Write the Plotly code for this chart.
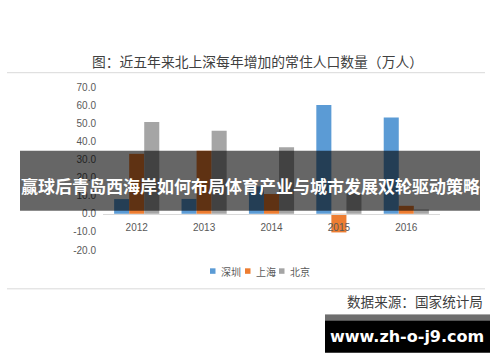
import plotly.graph_objects as go

years = ["2012", "2013", "2014", "2015", "2016"]
shenzhen = [8.1, 8.2, 15.1, 60.1, 53.1]
shanghai = [33.1, 34.8, 10.9, -10.3, 4.4]
beijing = [50.7, 45.9, 36.8, 11.4, 2.4]
series_names = ["深圳", "上海", "北京"]
colors = ["#5B9BD5", "#ED7D31", "#A5A5A5"]
y_ticks = [-20, -10, 0, 10, 20, 30, 40, 50, 60, 70]

title_text = "图：近五年来北上深每年增加的常住人口数量（万人）"
source_text = "数据来源：国家统计局"
overlay_text = "赢球后青岛西海岸如何布局体育产业与城市发展双轮驱动策略"
watermark_text = "www.zh-o-j9.com"

W, H = 500, 362
L, R, T, B = 103, 440, 87.3, 250.2
def px(x):
    return (x - L) / (R - L)
def py(y):
    return (B - y) / (B - T)

fig = go.Figure()
for name, vals, c in zip(series_names, [shenzhen, shanghai, beijing], colors):
    fig.add_trace(go.Bar(x=years, y=vals, name=name, showlegend=False,
                         marker=dict(color=c, line=dict(width=0))))

font_lbl = dict(family="Liberation Sans, Arial, sans-serif", size=10, color="#595959")
cjk = "Noto Sans CJK SC"

fig.update_layout(
    width=W, height=H,
    margin=dict(l=L, r=W - R, t=T, b=H - B, pad=0),
    paper_bgcolor="white", plot_bgcolor="white",
    barmode="group", bargap=0.33, bargroupgap=0,
    font=font_lbl,
    title=dict(text=title_text, x=257.5 / W, xref="container",
               y=1 - 62 / H, yref="container", xanchor="center", yanchor="middle",
               font=dict(family=cjk, size=13.8, color="#404040")),
    xaxis=dict(anchor="free", position=20 / 90, showline=True, linecolor="#D9D9D9",
               linewidth=1, ticks="", showgrid=False, tickfont=font_lbl, ticklabelstandoff=4),
    yaxis=dict(range=[-20, 70], tickvals=y_ticks, ticktext=[f"{v:.1f}" for v in y_ticks],
               showgrid=False, zeroline=False, ticks="", showline=False, tickfont=font_lbl,
               ticklabelstandoff=6),
)

shapes = [
    dict(type="line", xref="paper", yref="paper", x0=px(7), x1=px(485), y0=py(73), y1=py(73),
         line=dict(color="#D9D9D9", width=1)),
    dict(type="line", xref="paper", yref="paper", x0=px(7), x1=px(485), y0=py(289), y1=py(289),
         line=dict(color="#D9D9D9", width=1)),
]

# legend (manual, compact like the reference)
legend_x = [210, 245, 279]
for name, c, lx in zip(series_names, colors, legend_x):
    shapes.append(dict(type="rect", xref="paper", yref="paper", x0=px(lx), x1=px(lx + 5.5),
                       y0=py(274), y1=py(268.5), fillcolor=c, line=dict(width=0)))
    fig.add_annotation(text=name, xref="paper", yref="paper", x=px(lx + 9), y=py(271.5),
                       xanchor="left", yanchor="middle", showarrow=False,
                       font=dict(family=cjk, size=10, color="#595959"))

shapes += [
    dict(type="rect", xref="paper", yref="paper", x0=px(20), x1=px(480), y0=py(211), y1=py(151),
         fillcolor="rgba(0,0,0,0.6)", line=dict(width=0), layer="above"),
    dict(type="rect", xref="paper", yref="paper", x0=px(325), x1=px(490), y0=py(353), y1=py(315),
         fillcolor="#000000", line=dict(width=0), layer="above"),
    dict(type="rect", xref="paper", yref="paper", x0=px(325), x1=px(490), y0=py(321), y1=py(315),
         fillcolor="#6E6E6E", line=dict(width=0), layer="above"),
]
fig.update_layout(shapes=shapes)

fig.add_annotation(text=source_text, xref="paper", yref="paper", x=px(485), y=py(301),
                   xanchor="right", yanchor="middle", showarrow=False,
                   font=dict(family=cjk, size=13.6, color="#404040"))
fig.add_annotation(text="<b>" + overlay_text + "</b>", xref="paper", yref="paper", x=px(250), y=py(186),
                   xanchor="center", yanchor="middle", showarrow=False,
                   font=dict(family=cjk, size=17, color="white"))
fig.add_annotation(text="<b>" + watermark_text + "</b>", xref="paper", yref="paper", x=px(407), y=py(337),
                   xanchor="center", yanchor="middle", showarrow=False,
                   font=dict(family="DejaVu Sans, sans-serif", size=16, color="white"))

fig.write_html("out.html")
